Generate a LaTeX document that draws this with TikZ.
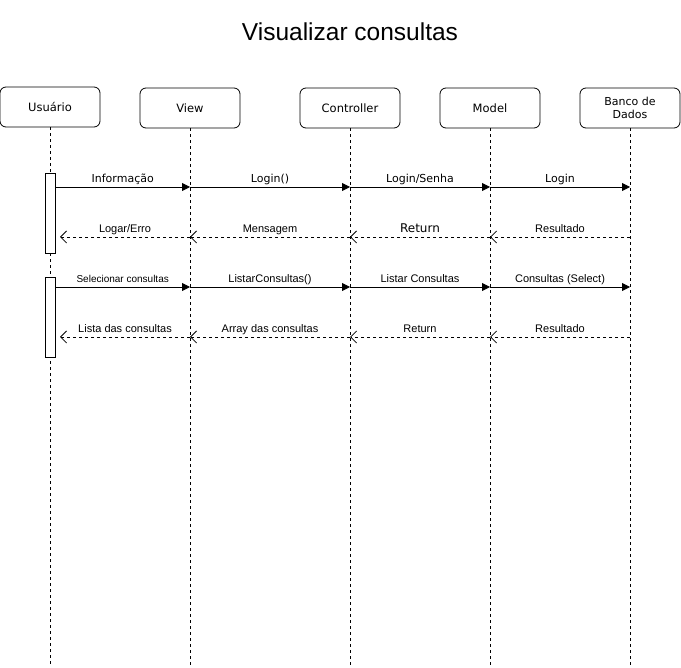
\documentclass[tikz,border=0pt]{standalone}
\usepackage{fontspec}
\setmainfont{Liberation Sans}
\newfontfamily\verd{DejaVu Sans}
\usetikzlibrary{arrows.meta}
\begin{document}
\begin{tikzpicture}[x=1pt,y=-1pt,
  actor/.style={draw,rounded corners=6pt,minimum width=100pt,minimum height=40pt,inner sep=0pt,font=\verd\fontsize{11.5}{13}\selectfont,align=center,line width=0.8pt},
  life/.style={dash pattern=on 3pt off 3pt,line width=0.8pt},
  act/.style={draw,fill=white,minimum width=10pt,inner sep=0pt,line width=0.8pt},
  call/.style={line width=0.8pt,-{Triangle[length=8pt,width=8pt]}},
  ret/.style={dash pattern=on 3pt off 3pt,line width=0.8pt,-{Straight Barb[length=6pt,width=12pt,line width=0.8pt]}},
  lblv/.style={above=0.5pt,inner sep=1pt,text height=8.5pt,text depth=2.5pt,font=\verd\fontsize{11}{13}\selectfont},
  lbla/.style={above=0.5pt,inner sep=1pt,text height=8.5pt,text depth=2.5pt,font=\fontsize{11}{13}\selectfont},
]
\useasboundingbox (0,0) rectangle (681,668);
\node[font=\fontsize{24.5}{28}\selectfont] (title) at (350,32) {Visualizar consultas};

\node[actor] (u) at (50,107) {Usuário};
\node[actor] (v) at (190,108) {View};
\node[actor] (c) at (350,108) {Controller};
\node[actor] (m) at (490,108) {Model};
\node[actor,font=\verd\fontsize{11}{13}\selectfont] (b) at (630,108) {Banco de\\Dados};

\foreach \n/\x in {u/50,v/190,c/350,m/490,b/630}{
  \coordinate (\n end) at (\x,666);
  \draw[life] (\n.south) -- (\n end);
}

\node[act,minimum height=80pt] (a1) at (50,213) {};
\node[act,minimum height=80pt] (a2) at (50,317) {};

% row coordinates on lifelines
\foreach \n/\x in {v/190,c/350,m/490,b/630}{
  \coordinate (\n1) at (\x,187);
  \coordinate (\n2) at (\x,237);
  \coordinate (\n3) at (\x,287);
  \coordinate (\n4) at (\x,337);
}
\coordinate (u2) at (60,237);
\coordinate (u4) at (60,337);

% row 1
\draw[call] (a1.east |- v1) -- node[lblv] {Informação} (v1);
\draw[call] (v1) -- node[lblv] {Login()} (c1);
\draw[call] (c1) -- node[lblv] {Login/Senha} (m1);
\draw[call] (m1) -- node[lblv] {Login} (b1);
% row 2
\draw[ret] (v2) -- node[lbla] {Logar/Erro} (u2);
\draw[ret] (c2) -- node[lbla] {Mensagem} (v2);
\draw[ret] (m2) -- node[lblv,font=\verd\fontsize{12}{14}\selectfont] {Return} (c2);
\draw[ret] (b2) -- node[lbla] {Resultado} (m2);
% row 3
\draw[call] (a2.east |- v3) -- node[lbla,font=\fontsize{10}{12}\selectfont] {Selecionar consultas} (v3);
\draw[call] (v3) -- node[lbla] {ListarConsultas()} (c3);
\draw[call] (c3) -- node[lbla] {Listar Consultas} (m3);
\draw[call] (m3) -- node[lbla] {Consultas (Select)} (b3);
% row 4
\draw[ret] (v4) -- node[lbla] {Lista das consultas} (u4);
\draw[ret] (c4) -- node[lbla] {Array das consultas} (v4);
\draw[ret] (m4) -- node[lbla] {Return} (c4);
\draw[ret] (b4) -- node[lbla] {Resultado} (m4);
\end{tikzpicture}
\end{document}
